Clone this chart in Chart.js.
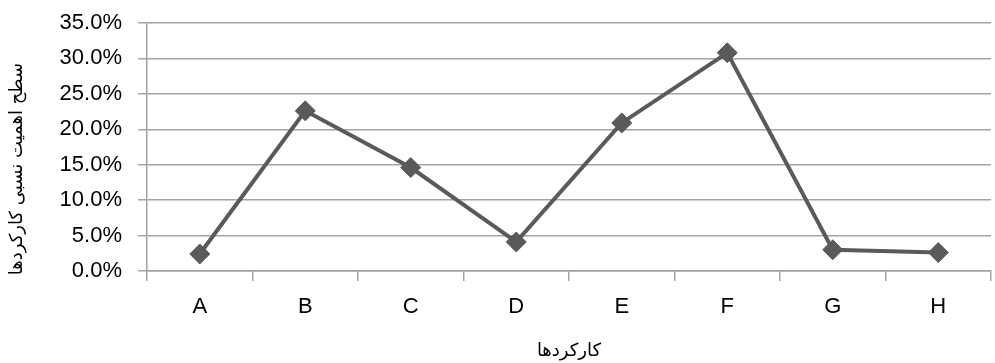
<!DOCTYPE html>
<html>
<head>
<meta charset="utf-8">
<script src="https://cdn.jsdelivr.net/npm/chart.js@4/dist/chart.umd.min.js"></script>
<style>
  html, body { margin: 0; padding: 0; background: #fff; overflow: hidden; }
  #wrap { position: relative; width: 1002px; height: 363px; }
</style>
</head>
<body>
<div id="wrap"><canvas id="chart"></canvas></div>
<script>
// Functions (کارکردها) and their relative importance share
const categories = ['A', 'B', 'C', 'D', 'E', 'F', 'G', 'H'];
const importance = [0.024, 0.226, 0.146, 0.041, 0.209, 0.308, 0.030, 0.026];
const yTicks = [0, 0.05, 0.10, 0.15, 0.20, 0.25, 0.30, 0.35];
const xTitle = 'کارکردها';
const yTitle = 'سطح اهمیت نسبی کارکردها';

const lineColor = '#5a5a5a';
const gridColor = '#a3a3a3';
const tickFont = { family: "'Liberation Sans', Arial, sans-serif", size: 22 };
const titleFont = "18px 'DejaVu Sans', sans-serif";

// Axis captions, placed relative to the plot area
const axisCaptions = {
  id: 'axisCaptions',
  afterDraw(chart) {
    const { ctx, chartArea } = chart;
    ctx.save();
    ctx.fillStyle = '#000';
    ctx.font = titleFont;
    ctx.textAlign = 'center';
    ctx.textBaseline = 'middle';
    ctx.direction = 'rtl';
    ctx.fillText(xTitle, (chartArea.left + chartArea.right) / 2, 351);
    ctx.translate(17, 169);
    ctx.rotate(-Math.PI / 2);
    ctx.fillText(yTitle, 0, 0);
    ctx.restore();
  }
};

new Chart(document.getElementById('chart'), {
  type: 'line',
  data: {
    labels: categories,
    datasets: [{
      data: importance,
      borderColor: lineColor,
      backgroundColor: lineColor,
      borderWidth: 4,
      tension: 0,
      pointStyle: 'rectRot',
      pointRadius: 10,
      pointBorderWidth: 1,
      pointBackgroundColor: lineColor,
      pointBorderColor: lineColor
    }]
  },
  options: {
    responsive: true,
    maintainAspectRatio: false,
    animation: false,
    layout: { padding: { top: 23, right: 0, bottom: 0, left: 0 } },
    plugins: { legend: { display: false }, tooltip: { enabled: false } },
    scales: {
      x: {
        type: 'category',
        offset: true,
        grid: { offset: true, drawOnChartArea: false, drawTicks: true, tickLength: 10, color: gridColor, lineWidth: 1.5 },
        border: { color: gridColor, width: 1.5 },
        ticks: { color: '#000', font: tickFont, padding: 13, maxRotation: 0 },
        afterFit(scale) {
          scale.height = 92;
          scale.paddingLeft = 0;
          scale.paddingRight = 0;
        }
      },
      y: {
        min: 0,
        max: 0.35,
        afterBuildTicks(scale) { scale.ticks = yTicks.map(v => ({ value: v })); },
        grid: { color: gridColor, lineWidth: 1.5, tickLength: 9 },
        border: { color: gridColor, width: 1.5 },
        ticks: {
          color: '#000',
          font: tickFont,
          padding: 16,
          callback: v => (v * 100).toFixed(1) + '%'
        },
        afterFit(scale) {
          scale.width = 147;
          scale.paddingTop = 0;
          scale.paddingBottom = 0;
        }
      }
    }
  },
  plugins: [axisCaptions]
});
</script>
</body>
</html>
